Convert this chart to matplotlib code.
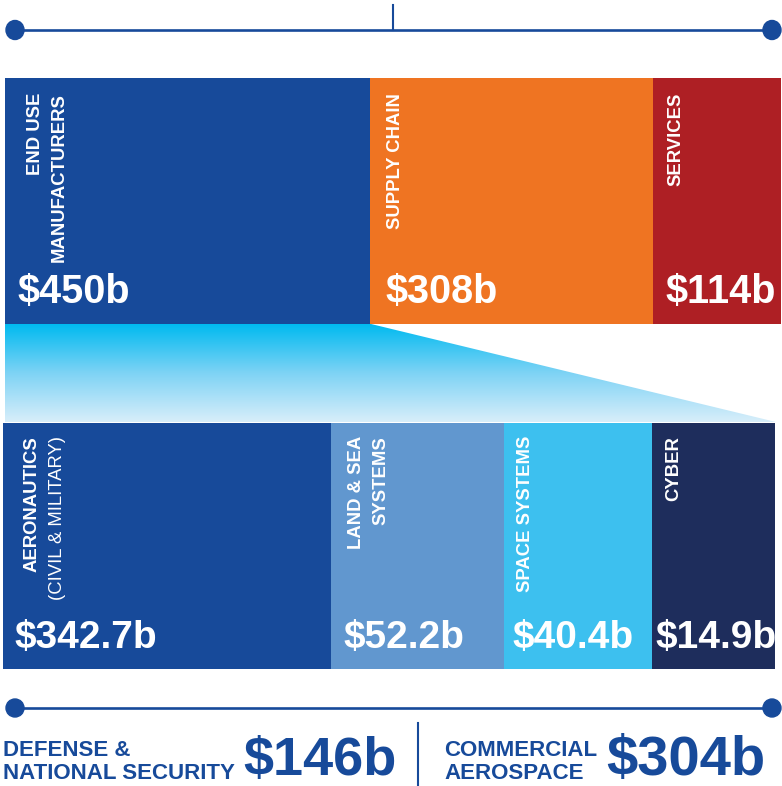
import matplotlib
matplotlib.use("Agg")
import matplotlib.pyplot as plt
import numpy as np
from matplotlib.patches import Polygon, Ellipse
from matplotlib.colors import LinearSegmentedColormap

# ---------------- data ----------------
top_categories = ["END USE\nMANUFACTURERS", "SUPPLY CHAIN", "SERVICES"]
top_values = [450, 308, 114]

bottom_categories = ["AERONAUTICS", "LAND & SEA\nSYSTEMS", "SPACE SYSTEMS", "CYBER"]
bottom_subtitles = ["(CIVIL & MILITARY)", "", "", ""]
bottom_values = [342.7, 52.2, 40.4, 14.9]

segment_names = ["DEFENSE &\nNATIONAL SECURITY", "COMMERCIAL\nAEROSPACE"]
segment_values = [146, 304]

# ---------------- layout / style ----------------
W, H = 782, 786
top_edges = [5, 370, 653, 781]
top_colors = ["#174A9A", "#EF7422", "#AE1F24"]
top_y0, top_y1 = 78, 324

bot_edges = [3, 331, 504, 652, 775]
bot_colors = ["#174A9A", "#6197CF", "#3DC0EF", "#1E2D5C"]
bot_y0, bot_y1 = 423, 669

BLUE = "#174A9A"
FONT = ["Liberation Sans", "DejaVu Sans"]

fig = plt.figure(figsize=(W / 100, H / 100), dpi=100)
ax = fig.add_axes([0, 0, 1, 1])
ax.set_xlim(0, W)
ax.set_ylim(H, 0)
ax.axis("off")


def fmt(v):
    return f"${v:g}b"


# top line with centre tick
ax.plot([15, 772], [30, 30], color=BLUE, lw=1.9, solid_capstyle="butt", zorder=2)
ax.plot([393, 393], [5, 30], color=BLUE, lw=1.5, zorder=2)
for cx in (15, 772):
    ax.add_patch(Ellipse((cx, 30), 18, 19, color=BLUE, zorder=3))

# top bars
lefts = top_edges[:-1]
widths = np.diff(top_edges)
ax.barh((top_y0 + top_y1) / 2, widths, left=lefts, height=top_y1 - top_y0,
        color=top_colors, align="center", linewidth=0)

top_label_x = [27, 387, 667]
top_value_x = [17, 386, 665]
for i, (cat, val) in enumerate(zip(top_categories, top_values)):
    ax.text(top_label_x[i], 93, cat, rotation=90, ha="left", va="top",
            multialignment="right", color="white", fontsize=13.3,
            fontweight="bold", family=FONT, linespacing=1.55)
    ax.text(top_value_x[i], 303, fmt(val), ha="left", va="baseline",
            color="white", fontsize=28.5, fontweight="bold", family=FONT)

# gradient funnel
cmap = LinearSegmentedColormap.from_list("fun", ["#00BAF0", "#7ED3F5", "#D8EEFA"])
grad = np.linspace(0, 1, 256).reshape(-1, 1)
im = ax.imshow(grad, cmap=cmap, extent=(5, 776, 422, 324), origin="upper",
               aspect="auto", zorder=1, interpolation="bilinear")
poly = Polygon([(5, 324), (371, 324), (776, 422), (5, 422)], closed=True,
               facecolor="none", edgecolor="none")
ax.add_patch(poly)
im.set_clip_path(poly)
ax.set_xlim(0, W)
ax.set_ylim(H, 0)

# bottom bars
blefts = bot_edges[:-1]
bwidths = np.diff(bot_edges)
ax.barh((bot_y0 + bot_y1) / 2, bwidths, left=blefts, height=bot_y1 - bot_y0,
        color=bot_colors, align="center", linewidth=0, zorder=2)

bot_label_x = [24, 348, 517, 665]
bot_value_x = [14, 343, 512, 655]
for i, (cat, sub, val) in enumerate(zip(bottom_categories, bottom_subtitles, bottom_values)):
    ax.text(bot_label_x[i], 436, cat, rotation=90, ha="left", va="top",
            multialignment="right", color="white", fontsize=13.3,
            fontweight="bold", family=FONT, linespacing=1.55, zorder=3)
    if sub:
        ax.text(bot_label_x[i] + 25, 436, sub, rotation=90, ha="left", va="top",
                color="white", fontsize=13.3, fontweight="normal", family=FONT,
                zorder=3)
    ax.text(bot_value_x[i], 648, fmt(val), ha="left", va="baseline",
            color="white", fontsize=28, fontweight="bold", family=FONT, zorder=3)

# bottom line
ax.plot([15, 772], [708, 708], color=BLUE, lw=1.9, solid_capstyle="butt", zorder=2)
for cx in (15, 772):
    ax.add_patch(Ellipse((cx, 708), 18, 18, color=BLUE, zorder=3))
ax.plot([418, 418], [723, 790], color=BLUE, lw=1.5, zorder=2)

seg_name_x = [3, 444]
seg_val_x = [243, 606]
seg_val_size = [39, 40.5]
for i, (name, val) in enumerate(zip(segment_names, segment_values)):
    ax.text(seg_name_x[i], 779, name, ha="left", va="baseline", color=BLUE,
            fontsize=16, fontweight="bold", family=FONT, linespacing=1.15)
    ax.text(seg_val_x[i], 775, fmt(val), ha="left", va="baseline", color=BLUE,
            fontsize=seg_val_size[i], fontweight="bold", family=FONT)

fig.savefig("out.png", dpi=100)
